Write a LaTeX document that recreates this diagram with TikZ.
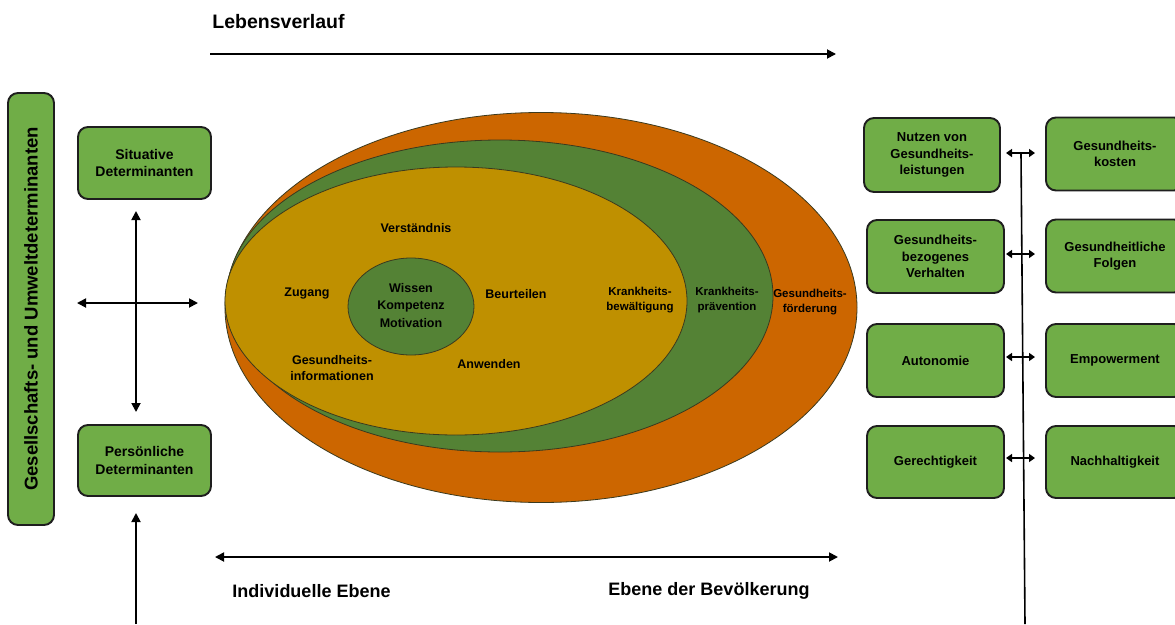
\documentclass[tikz,border=0pt]{standalone}
\usepackage{fontspec}
\setmainfont{Liberation Sans}
\usetikzlibrary{shapes.geometric,arrows.meta}
\definecolor{boxgreen}{HTML}{70AD47}
\definecolor{darkgreen}{HTML}{548235}
\definecolor{ochre}{HTML}{BF9000}
\definecolor{orangeouter}{HTML}{CC6600}
\definecolor{edge}{HTML}{1E1E1E}
\definecolor{ellline}{HTML}{3B3A1E}
\tikzset{
  x=1pt,y=-1pt,
  gbox/.style={draw=edge,line width=1.9pt,fill=boxgreen,rounded corners=10pt,
    inner sep=2pt,align=center,font=\fontsize{13}{16.5}\selectfont\bfseries,text=black},
  lbox/.style={gbox,minimum width=133,minimum height=72,font=\fontsize{14}{17.5}\selectfont\bfseries},
  rbox/.style={gbox,minimum width=137,minimum height=73},
  ell/.style={ellipse,draw=ellline,line width=0.8pt,inner sep=0pt},
  elltxt/.style={align=center,font=\fontsize{12.5}{16}\selectfont\bfseries,text=black},
  bigtxt/.style={font=\fontsize{18}{22}\selectfont\bfseries,text=black},
  arr/.style={line width=1.8pt,-{Triangle[length=9pt,width=9pt]}},
  darr/.style={line width=1.8pt,{Triangle[length=9pt,width=9pt]}-{Triangle[length=9pt,width=9pt]}},
  sarr/.style={line width=1.7pt,{Triangle[length=6pt,width=8pt]}-{Triangle[length=6pt,width=8pt]}},
}
\begin{document}
\begin{tikzpicture}
\useasboundingbox (0,0) rectangle (1175,624);
\fill[white] (0,0) rectangle (1175,624);

% top
\node[bigtxt,font=\fontsize{19.5}{22}\selectfont\bfseries] (lv) at (278.5,22) {Lebensverlauf};
\coordinate (t1) at (210,54);
\coordinate (t2) at (836,54);
\draw[arr] (t1) -- (t2);

% left bar
\node[gbox,rotate=90,minimum width=432,minimum height=46,font=\fontsize{18.5}{22}\selectfont\bfseries] (ges) at (31,309) {Gesellschafts- und Umweltdeterminanten};

\node[lbox] (sit) at (144.5,163) {Situative\\Determinanten};
\node[lbox,minimum height=71] (per) at (144.5,460.5) {Persönliche\\Determinanten};

\coordinate (cv1) at (136,211);
\coordinate (cv2) at (136,412);
\coordinate (ch1) at (77,303);
\coordinate (ch2) at (198,303);
\draw[darr] (cv1) -- (cv2);
\draw[darr] (ch1) -- (ch2);
\coordinate (bu1) at (136,624);
\coordinate (bu2) at (136,513);
\draw[arr] (bu1) -- (bu2);

% ellipses
\node[ell,fill=orangeouter,minimum width=632,minimum height=390] (outer) at (541,307.5) {};
\node[ell,fill=darkgreen,minimum width=546,minimum height=312] (mid) at (500,296) {};
\node[ell,fill=ochre,minimum width=462,minimum height=268] (inner) at (456,301) {};
\node[ell,fill=darkgreen,minimum width=126,minimum height=97] (core) at (411,306.5) {};
\node[elltxt,font=\fontsize{12.5}{17.5}\selectfont\bfseries] (wkm) at (411,305.5) {Wissen\\Kompetenz\\Motivation};

\node[elltxt] (vers) at (416,228) {Verständnis};
\node[elltxt] (zug) at (307,293.5) {Zugang};
\node[elltxt] (beu) at (516,294.5) {Beurteilen};
\node[elltxt] (gi) at (332,368) {Gesundheits-\\informationen};
\node[elltxt] (anw) at (489,364) {Anwenden};
\node[elltxt,font=\fontsize{11.5}{14.5}\selectfont\bfseries] (kb) at (640,300) {Krankheits-\\bewältigung};
\node[elltxt,font=\fontsize{11.5}{14.5}\selectfont\bfseries] (kp) at (727,300) {Krankheits-\\prävention};
\node[elltxt,font=\fontsize{11.5}{14.5}\selectfont\bfseries] (gf) at (810,302) {Gesundheits-\\förderung};

% bottom
\coordinate (b1) at (215,557);
\coordinate (b2) at (838,557);
\draw[darr] (b1) -- (b2);
\node[bigtxt] (ind) at (311.5,591) {Individuelle Ebene};
\node[bigtxt] (bev) at (709,591) {Ebene der Bevölkerung};

% right boxes
\node[rbox,minimum width=136,minimum height=74] (nut) at (932,155) {Nutzen von\\Gesundheits-\\leistungen};
\node[rbox] (gbv) at (935.5,256.5) {Gesundheits-\\bezogenes\\Verhalten};
\node[rbox] (aut) at (935.5,360.5) {Autonomie};
\node[rbox,minimum height=72] (ger) at (935.5,462) {Gerechtigkeit};

\node[rbox,minimum width=138] (gk) at (1115,154) {Gesundheits-\\kosten};
\node[rbox,minimum width=138] (gfo) at (1115,256) {Gesundheitliche\\Folgen};
\node[rbox,minimum width=138] (emp) at (1115,360.5) {Empowerment};
\node[rbox,minimum width=138,minimum height=72] (nac) at (1115,462) {Nachhaltigkeit};

\coordinate (v1) at (1021,154);
\coordinate (v2) at (1025,624);
\draw[line width=1.6pt] (v1) -- (v2);
\foreach \y/\n in {153/a,254/b,357/c,458/d}{
  \coordinate (l\n) at (1006,\y);
  \coordinate (r\n) at (1035,\y);
  \draw[sarr] (l\n) -- (r\n);
}
\end{tikzpicture}
\end{document}
